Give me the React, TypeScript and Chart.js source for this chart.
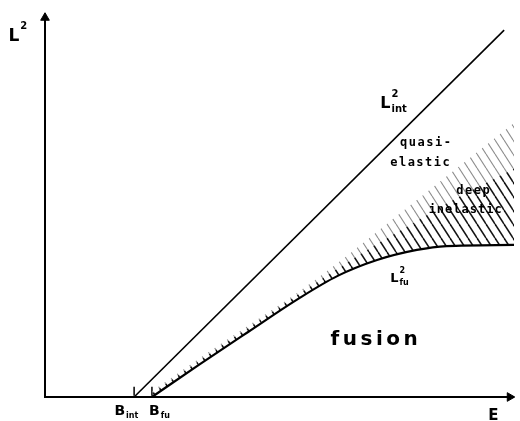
import React, { useEffect, useRef } from 'react';
import { Chart, registerables } from 'chart.js';

Chart.register(...registerables);

// ---- data (schematic units: E on x, L^2 on y, both 0..100) ----
const fuE = [22.8, 32.8, 43.3, 53.9, 62.4, 70.8, 79.3, 85.6, 100];
const fuL2 = [0, 8.3, 16.8, 25.3, 31.3, 35.4, 38.0, 39.0, 39.3];
const deepInelasticDarkTop = [0.9, 9.3, 17.8, 26.4, 33.2, 39.6, 45.5, 50.0, 59.0];
const deepInelasticTop = [1.5, 9.9, 18.4, 27.0, 34.6, 42.7, 50.9, 57.0, 70.8];
const intE = [19.0, 97.9];
const intL2 = [0, 94.8];
const thresholdE = [19.0, 22.8]; // B_int, B_fu
const axisCorner = [0, 0];
const axisEnds = { E: 100, L2: 98 };

type Label = {
  x: number; y: number; text: string; sup?: string; sub?: string;
  size: number; family: string; spacing?: number;
};

const SANS = '"DejaVu Sans", sans-serif';
const MONO = '"DejaVu Sans Mono", monospace';

const labels: Label[] = [
  { x: -7.8, y: 92.0, text: 'L', sup: '2', size: 17, family: SANS },
  { x: 71.5, y: 74.7, text: 'L', sup: '2', sub: 'int', size: 16, family: SANS },
  { x: 73.6, y: 29.7, text: 'L', sup: '2', sub: 'fu', size: 13, family: SANS },
  { x: 14.8, y: -4.65, text: 'B', sub: 'int', size: 14, family: SANS },
  { x: 22.2, y: -4.65, text: 'B', sub: 'fu', size: 14, family: SANS },
  { x: 94.5, y: -5.9, text: 'E', size: 15, family: SANS },
  { x: 75.7, y: 64.9, text: 'quasi-', size: 12, family: MONO, spacing: 1.5 },
  { x: 73.6, y: 59.7, text: 'elastic', size: 12, family: MONO, spacing: 1.5 },
  { x: 87.7, y: 52.4, text: 'deep', size: 12, family: MONO, spacing: 1.5 },
  { x: 81.8, y: 47.5, text: 'inelastic', size: 12, family: MONO, spacing: 1.0 },
  { x: 60.9, y: 13.4, text: 'fusion', size: 20, family: SANS, spacing: 3.5 },
];

function makeHatch(color: string, lw: number): CanvasPattern | string {
  const c = document.createElement('canvas');
  const w = 9, h = 14;
  c.width = w; c.height = h;
  const g = c.getContext('2d');
  if (!g) return color;
  g.strokeStyle = color;
  g.lineWidth = lw;
  for (const dx of [-w, 0, w]) {
    g.beginPath();
    g.moveTo(dx, 0);
    g.lineTo(dx + w, h);
    g.stroke();
  }
  return g.createPattern(c, 'repeat') || color;
}

const labelPlugin = {
  id: 'diagramLabels',
  afterDatasetsDraw(chart: any) {
    const { ctx, scales } = chart;
    const xs = scales.x, ys = scales.y;
    ctx.save();
    ctx.fillStyle = '#000';
    ctx.textAlign = 'left';
    ctx.textBaseline = 'alphabetic';
    for (const l of labels) {
      const px = xs.getPixelForValue(l.x);
      const py = ys.getPixelForValue(l.y);
      ctx.font = `bold ${l.size}px ${l.family}`;
      (ctx as any).letterSpacing = `${l.spacing ?? 0}px`;
      ctx.fillText(l.text, px, py);
      const w = ctx.measureText(l.text).width;
      (ctx as any).letterSpacing = '0px';
      const s = Math.round(l.size * 0.6);
      ctx.font = `bold ${s}px ${l.family}`;
      if (l.sup) ctx.fillText(l.sup, px + w + 1, py - l.size * 0.7);
      if (l.sub) ctx.fillText(l.sub, px + w + 1, py + l.size * 0.25);
    }
    ctx.restore();
  },
};

export default function App() {
  const ref = useRef<HTMLCanvasElement | null>(null);

  useEffect(() => {
    if (!ref.current) return;
    const pts = (xs: number[], ys: number[]) => xs.map((x, i) => ({ x, y: ys[i] }));
    const dark = makeHatch('#141414', 1.5);
    const light = makeHatch('#8c8c8c', 1.1);

    const chart = new Chart(ref.current, {
      type: 'line',
      data: {
        datasets: [
          {
            label: 'L2_fu',
            data: pts(fuE, fuL2),
            borderColor: '#000',
            borderWidth: 2.2,
            cubicInterpolationMode: 'monotone',
            pointRadius: 0,
            fill: false,
            clip: false,
          } as any,
          {
            label: 'deep inelastic (dark)',
            data: pts(fuE, deepInelasticDarkTop),
            borderWidth: 0,
            borderColor: 'rgba(0,0,0,0)',
            cubicInterpolationMode: 'monotone',
            pointRadius: 0,
            fill: 0,
            backgroundColor: dark,
            clip: false,
          },
          {
            label: 'deep inelastic (light)',
            data: pts(fuE, deepInelasticTop),
            borderWidth: 0,
            borderColor: 'rgba(0,0,0,0)',
            cubicInterpolationMode: 'monotone',
            pointRadius: 0,
            fill: 1,
            backgroundColor: light,
            clip: false,
          },
          {
            label: 'L2_int',
            data: pts(intE, intL2),
            borderColor: '#000',
            borderWidth: 1.6,
            pointRadius: 0,
            fill: false,
            clip: false,
          },
          {
            label: 'axes',
            data: [
              { x: axisCorner[0], y: axisEnds.L2 },
              { x: axisCorner[0], y: axisCorner[1] },
              { x: axisEnds.E, y: axisCorner[1] },
            ],
            borderColor: '#000',
            borderWidth: 2,
            pointRadius: 0,
            fill: false,
            clip: false,
          },
          {
            label: 'arrows',
            data: [
              { x: axisCorner[0], y: axisEnds.L2 },
              { x: axisEnds.E - 0.9, y: axisCorner[1] },
            ],
            showLine: false,
            pointStyle: 'triangle',
            pointRadius: 5,
            pointRotation: [0, 90],
            pointBackgroundColor: '#000',
            pointBorderColor: '#000',
            pointBorderWidth: 1,
            clip: false,
          } as any,
          {
            label: 'thresholds',
            data: thresholdE.map((x) => ({ x, y: 1.5 })),
            showLine: false,
            pointStyle: 'line',
            pointRadius: 4.5,
            pointRotation: 90,
            pointBorderColor: '#000',
            pointBorderWidth: 1.5,
            clip: false,
          } as any,
        ],
      },
      options: {
        animation: false,
        responsive: false,
        layout: { padding: { left: 45, right: 2, top: 10, bottom: 24 } },
        plugins: {
          legend: { display: false },
          tooltip: { enabled: false },
        },
        events: [],
        scales: {
          x: { type: 'linear', min: 0, max: 100, display: false },
          y: { type: 'linear', min: 0, max: 100, display: false },
        },
      },
      plugins: [labelPlugin],
    });
    return () => chart.destroy();
  }, []);

  return (
    <div style={{ position: 'absolute', left: 0, top: 0, width: 520, height: 421, background: '#fff' }}>
      <canvas ref={ref} width={520} height={421} style={{ display: 'block' }} />
    </div>
  );
}
